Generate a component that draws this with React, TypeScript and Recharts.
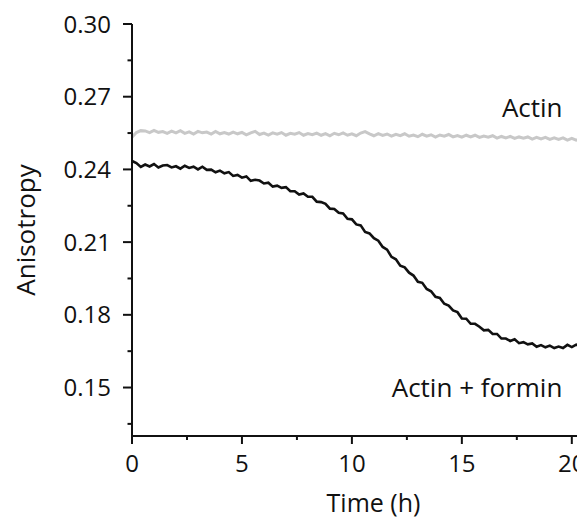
import { LineChart, Line, XAxis, YAxis, ReferenceDot } from 'recharts';

// sampling times (h) of both traces
const TIME_H = [
  0, 0.2, 0.4, 0.6, 0.8, 1, 1.2, 1.4, 1.6, 1.8, 2, 2.2, 2.4, 2.6, 2.8, 3, 3.2, 3.4, 3.6, 3.8,
  4, 4.2, 4.4, 4.6, 4.8, 5, 5.2, 5.4, 5.6, 5.8, 6, 6.2, 6.4, 6.6, 6.8, 7, 7.2, 7.4, 7.6, 7.8,
  8, 8.2, 8.4, 8.6, 8.8, 9, 9.2, 9.4, 9.6, 9.8, 10, 10.2, 10.4, 10.6, 10.8, 11, 11.2, 11.4, 11.6, 11.8,
  12, 12.2, 12.4, 12.6, 12.8, 13, 13.2, 13.4, 13.6, 13.8, 14, 14.2, 14.4, 14.6, 14.8, 15, 15.2, 15.4, 15.6, 15.8,
  16, 16.2, 16.4, 16.6, 16.8, 17, 17.2, 17.4, 17.6, 17.8, 18, 18.2, 18.4, 18.6, 18.8, 19, 19.2, 19.4, 19.6, 19.8,
  20, 20.2, 20.4, 20.6,
];

const ACTIN = [
  0.2533, 0.2552, 0.256, 0.2559, 0.2552, 0.2561, 0.2553, 0.2556, 0.2549, 0.2558,
  0.2551, 0.256, 0.2549, 0.2555, 0.2546, 0.2557, 0.2551, 0.2554, 0.2546, 0.2557,
  0.2547, 0.2552, 0.2546, 0.2554, 0.2547, 0.2553, 0.2543, 0.2551, 0.2557, 0.2544,
  0.255, 0.2542, 0.2551, 0.2545, 0.2552, 0.2541, 0.2549, 0.2545, 0.2552, 0.2541,
  0.2548, 0.2543, 0.255, 0.2541, 0.2548, 0.2539, 0.2549, 0.2543, 0.2551, 0.2541,
  0.2547, 0.2539, 0.255, 0.2556, 0.2547, 0.2539, 0.2548, 0.254, 0.2546, 0.2537,
  0.2545, 0.2539, 0.2547, 0.2537, 0.2542, 0.2535, 0.2545, 0.2537, 0.2543, 0.2533,
  0.2542, 0.2537, 0.2544, 0.2534, 0.254, 0.2533, 0.2541, 0.2534, 0.2541, 0.2532,
  0.2538, 0.2533, 0.2539, 0.2529, 0.2536, 0.253, 0.2536, 0.2528, 0.2534, 0.2529,
  0.2534, 0.2525, 0.2532, 0.2526, 0.2532, 0.2524, 0.253, 0.2524, 0.253, 0.2521,
  0.2528, 0.2521, 0.2525, 0.2518,
];

const ACTIN_FORMIN = [
  0.2435, 0.2426, 0.241, 0.242, 0.2412, 0.2422, 0.2408, 0.2416, 0.2418, 0.2408,
  0.2413, 0.2403, 0.2415, 0.2406, 0.2411, 0.24, 0.2411, 0.2398, 0.2399, 0.2388,
  0.2395, 0.2384, 0.2389, 0.2373, 0.2377, 0.2366, 0.2371, 0.2353, 0.2357, 0.2354,
  0.2342, 0.2345, 0.2329, 0.2333, 0.2324, 0.2327, 0.231, 0.231, 0.2296, 0.2301,
  0.2287, 0.2287, 0.2267, 0.2265, 0.2258, 0.2238, 0.2237, 0.2221, 0.2218, 0.2196,
  0.2194, 0.2173, 0.2169, 0.2142, 0.2136, 0.2116, 0.2106, 0.208, 0.2069, 0.2039,
  0.2029, 0.2003, 0.1996, 0.1974, 0.1962, 0.1936, 0.1932, 0.1907, 0.1897, 0.1874,
  0.187, 0.1846, 0.1838, 0.1818, 0.1811, 0.1785, 0.1784, 0.1763, 0.1763, 0.1751,
  0.1736, 0.1738, 0.1721, 0.1721, 0.1702, 0.1702, 0.1692, 0.1699, 0.1683, 0.1687,
  0.1678, 0.1682, 0.1668, 0.1675, 0.1666, 0.1673, 0.1663, 0.1669, 0.1663, 0.1676,
  0.1667, 0.1677, 0.167, 0.1685,
];

const X_MAJOR = [0, 5, 10, 15, 20];
const X_MINOR = [2.5, 7.5, 12.5, 17.5];
const Y_MAJOR = [0.15, 0.18, 0.21, 0.24, 0.27, 0.3];
const Y_MINOR = [0.135, 0.165, 0.195, 0.225, 0.255, 0.285];

const INK = '#111';
const FONT = '"Open Sans", sans-serif';

const data = TIME_H.map((t, i) => ({ t, actin: ACTIN[i], formin: ACTIN_FORMIN[i] }));

function YTick({ x, y, payload }: any) {
  const major = Y_MAJOR.includes(payload.value);
  const len = major ? 9 : 4.5;
  return (
    <g>
      <line x1={x - len} x2={x} y1={y} y2={y} stroke={INK} strokeWidth={2} />
      {major && (
        <text x={x - 21} y={y} dy="0.36em" textAnchor="end" fontSize={24} fontFamily={FONT} fill={INK}>
          {payload.value.toFixed(2)}
        </text>
      )}
    </g>
  );
}

function XTick({ x, y, payload }: any) {
  const major = X_MAJOR.includes(payload.value);
  const len = major ? 8 : 4;
  return (
    <g>
      <line x1={x} x2={x} y1={y} y2={y + len} stroke={INK} strokeWidth={2} />
      {major && (
        <text x={x} y={y + 36} textAnchor="middle" fontSize={24} fontFamily={FONT} fill={INK}>
          {payload.value}
        </text>
      )}
    </g>
  );
}

function YLabel() {
  return (
    <text x={27} y={222} transform="rotate(-90, 27, 222)" textAnchor="middle" fontSize={26} fontFamily={FONT} fill={INK}>
      Anisotropy
    </text>
  );
}

function Note(text: string) {
  return ({ cx, cy }: any) => (
    <text x={cx} y={cy} textAnchor="middle" fontSize={26} fontFamily={FONT} fill={INK}>
      {text}
    </text>
  );
}

export default function App() {
  return (
    <div>
      <style>{'html,body{overflow:hidden}'}</style>
      <LineChart
        width={577}
        height={511}
        data={data}
        margin={{ top: 16, right: 0, bottom: 0, left: 0 }}
        style={{ fontFamily: FONT }}
      >
        <XAxis
          dataKey="t"
          type="number"
          domain={[0, 20.6]}
          ticks={[...X_MAJOR, ...X_MINOR]}
          interval={0}
          allowDataOverflow
          height={83}
          tickSize={0}
          tickMargin={0}
          tickLine={false}
          tick={<XTick />}
          axisLine={{ stroke: INK, strokeWidth: 2 }}
          label={{ value: 'Time (h)', position: 'insideBottom', offset: 7, dx: 15, fontSize: 25, fill: INK, fontFamily: FONT }}
        />
        <XAxis
          xAxisId="top"
          orientation="top"
          dataKey="t"
          type="number"
          domain={[0, 20.6]}
          height={0}
          tick={false}
          tickLine={false}
          axisLine={{ stroke: INK, strokeWidth: 2 }}
        />
        <YAxis
          type="number"
          domain={[0.13, 0.3]}
          ticks={[...Y_MAJOR, ...Y_MINOR]}
          interval={0}
          allowDataOverflow
          width={124}
          tickSize={0}
          tickMargin={0}
          tickLine={false}
          tick={<YTick />}
          axisLine={{ stroke: INK, strokeWidth: 2 }}
          label={<YLabel />}
        />
        <Line
          dataKey="actin"
          type="linear"
          stroke="#c8c8c8"
          strokeWidth={3}
          dot={false}
          isAnimationActive={false}
        />
        <Line
          dataKey="formin"
          type="linear"
          stroke={INK}
          strokeWidth={2.6}
          dot={false}
          isAnimationActive={false}
        />
        <ReferenceDot x={18.2} y={0.2618} r={0} shape={Note('Actin')} />
        <ReferenceDot x={15.69} y={0.1461} r={0} shape={Note('Actin + formin')} />
      </LineChart>
    </div>
  );
}
